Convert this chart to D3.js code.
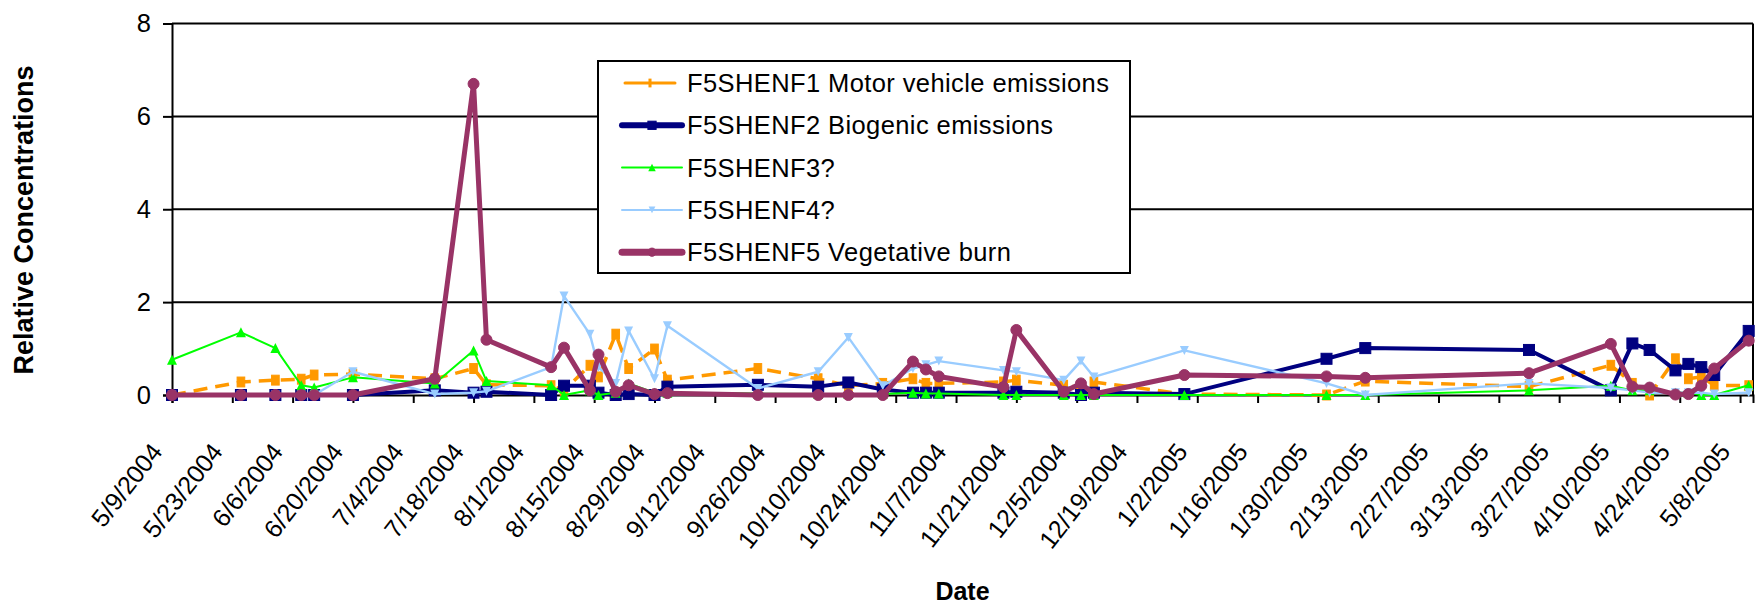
<!DOCTYPE html>
<html>
<head>
<meta charset="utf-8">
<script src="https://cdn.jsdelivr.net/npm/d3@7/dist/d3.min.js"></script>
<style>
  html, body { margin: 0; padding: 0; background: #fff; }
  svg { display: block; font-family: "Liberation Sans", Arial, sans-serif; }
</style>
</head>
<body>
<svg id="chart" width="1757" height="604"></svg>
<script>
// ---------------- DATA ----------------
const sampleDates = [
  "5/9/2004","5/25/2004","6/2/2004","6/8/2004","6/11/2004","6/20/2004","7/9/2004","7/18/2004","7/21/2004",
  "8/5/2004","8/8/2004","8/14/2004","8/16/2004","8/20/2004","8/23/2004","8/29/2004","9/1/2004","9/22/2004",
  "10/6/2004","10/13/2004","10/21/2004","10/28/2004","10/31/2004","11/3/2004","11/18/2004","11/21/2004",
  "12/2/2004","12/6/2004","12/9/2004","12/30/2004","2/1/2005","2/10/2005","3/20/2005","4/8/2005","4/13/2005",
  "4/17/2005","4/23/2005","4/26/2005","4/29/2005","5/2/2005","5/10/2005"
];
const seriesNames = [
  "F5SHENF1 Motor vehicle emissions",
  "F5SHENF2 Biogenic emissions",
  "F5SHENF3?",
  "F5SHENF4?",
  "F5SHENF5 Vegetative burn"
];
const f1Motor = [0,0.28,0.32,0.34,0.43,0.45,0.35,0.57,0.22,0.2,0.1,0.64,0.39,1.31,0.57,0.99,0.32,0.57,
  0.35,0.2,0.25,0.35,0.25,0.25,0.28,0.32,0.21,0.15,0.28,0.02,0,0.3,0.18,0.64,0.25,0,0.78,0.35,0.39,0.21,0.2];
const f2Biogenic = [0,0,0,0,0,0,0.1,0.05,0.07,0,0.2,0.2,0.05,0,0.02,0,0.18,0.22,
  0.18,0.27,0.12,0.05,0.05,0.05,0.05,0.07,0.05,0,0.05,0.02,0.78,1.01,0.97,0.1,1.11,0.97,0.53,0.67,0.6,0.43,1.38];
const f3Unknown = [0.76,1.35,1.01,0.21,0.16,0.38,0.25,0.96,0.3,0.21,0,0.1,0,0.05,0.25,0.05,0.05,0.03,
  0.02,0.02,0.02,0.05,0.03,0.03,0,0,0,0,0,0,0,0,0.1,0.2,0.1,0.1,0.05,0.05,0,0,0.21];
const f4Unknown = [0,0,0,0,0,0.5,0.02,0.05,0.08,0.6,2.13,1.31,0.6,0.25,1.38,0.35,1.49,0.14,
  0.5,1.24,0.2,0.57,0.65,0.73,0.53,0.5,0.32,0.73,0.39,0.96,0.25,0,0.25,0.15,0.1,0.05,0.05,0.05,0.05,0.02,0.05];
const f5Burn = [0,0,0,0,0,0,0.35,6.7,1.19,0.6,1.02,0.1,0.87,0.07,0.21,0.02,0.04,0,
  0,0,0,0.72,0.55,0.4,0.17,1.4,0.07,0.25,0.02,0.43,0.4,0.37,0.47,1.1,0.18,0.16,0.01,0.02,0.2,0.57,1.17];
const tickLabels = [
  "5/9/2004","5/23/2004","6/6/2004","6/20/2004","7/4/2004","7/18/2004","8/1/2004","8/15/2004","8/29/2004",
  "9/12/2004","9/26/2004","10/10/2004","10/24/2004","11/7/2004","11/21/2004","12/5/2004","12/19/2004",
  "1/2/2005","1/16/2005","1/30/2005","2/13/2005","2/27/2005","3/13/2005","3/27/2005","4/10/2005",
  "4/24/2005","5/8/2005"
];
const yTicks = [0, 2, 4, 6, 8];
const axisStart = "5/9/2004";
const axisEnd = "5/11/2005";

// ---------------- STYLES ----------------
const styles = [
  { color: "#FF9900", width: 3.5, dash: "14,8", marker: "rect", size: 9 },
  { color: "#000080", width: 4, dash: null, marker: "square", size: 11 },
  { color: "#00FF00", width: 2, dash: null, marker: "triangle", size: 10 },
  { color: "#99CCFF", width: 2.4, dash: null, marker: "tridown", size: 9 },
  { color: "#993366", width: 5, dash: null, marker: "circle", size: 11 }
];
const seriesValues = [f1Motor, f2Biogenic, f3Unknown, f4Unknown, f5Burn];

// ---------------- LAYOUT ----------------
const L = 172, R = 1753, T = 23.5, B = 395;
const parse = d3.utcParse("%m/%d/%Y");
const fmt = d3.utcFormat("%-m/%-d/%Y");

const x = d3.scaleUtc().domain([parse(axisStart), parse(axisEnd)]).range([L, R]);
const y = d3.scaleLinear().domain([0, 8]).range([B, T]);

const svg = d3.select("#chart");

// gridlines
svg.append("g").selectAll("line").data(yTicks.filter(v => v > 0)).join("line")
  .attr("x1", L).attr("x2", R).attr("y1", d => y(d)).attr("y2", d => y(d))
  .attr("stroke", "#000").attr("stroke-width", 2);
// right border
svg.append("line").attr("x1", R).attr("x2", R).attr("y1", T).attr("y2", B)
  .attr("stroke", "#000").attr("stroke-width", 2);

// y axis
const yAxis = d3.axisLeft(y).tickValues(yTicks).tickSize(9).tickPadding(12).tickFormat(d3.format("d"));
const gy = svg.append("g").attr("transform", `translate(${L},0)`).call(yAxis);
gy.select(".domain").attr("stroke", "#000").attr("stroke-width", 2);
gy.selectAll(".tick line").attr("stroke", "#000").attr("stroke-width", 2);
gy.selectAll(".tick text").attr("font-size", 25.5).attr("fill", "#000")
  .attr("font-family", "'Liberation Sans', Arial, sans-serif");

// x axis
const tickDates = tickLabels.map(parse);
const xAxis = d3.axisBottom(x).tickValues(tickDates).tickSize(8).tickFormat(fmt);
const gx = svg.append("g").attr("transform", `translate(0,${B})`).call(xAxis);
gx.select(".domain").attr("stroke", "#000").attr("stroke-width", 2);
gx.selectAll(".tick line").attr("stroke", "#000").attr("stroke-width", 2);
gx.selectAll(".tick text")
  .attr("font-size", 25).attr("fill", "#000")
  .attr("font-family", "'Liberation Sans', Arial, sans-serif")
  .attr("text-anchor", "end")
  .attr("dy", null).attr("y", 0)
  .attr("transform", "translate(-9,57) rotate(-52)");

// series
const dates = sampleDates.map(parse);
const line = d3.line().x(d => x(d.date)).y(d => y(d.value));

function drawMarker(g, type, size, color) {
  if (type === "circle") {
    return g.append("circle").attr("r", size / 2).attr("fill", color).attr("stroke", color);
  }
  if (type === "square") {
    return g.append("rect").attr("x", -size / 2).attr("y", -size / 2).attr("width", size).attr("height", size)
      .attr("fill", color).attr("stroke", color);
  }
  if (type === "rect") {
    const w = size * 0.85, h = size * 1.1;
    return g.append("rect").attr("x", -w / 2).attr("y", -h / 2).attr("width", w).attr("height", h)
      .attr("fill", color).attr("stroke", color);
  }
  if (type === "bar") {
    const w = size * 0.45, h = size * 1.3;
    return g.append("rect").attr("x", -w / 2).attr("y", -h / 2).attr("width", w).attr("height", h)
      .attr("fill", color);
  }
  if (type === "triangle") {
    const s = size / 2;
    return g.append("path").attr("d", `M0,${-s}L${s},${s}L${-s},${s}Z`).attr("fill", color);
  }
  if (type === "tridown") {
    const s = size / 2;
    return g.append("path").attr("d", `M${-s},${-s}L${s},${-s}L0,${s}Z`).attr("fill", color);
  }
}

seriesValues.forEach((vals, i) => {
  const st = styles[i];
  const pts = vals.map((v, j) => ({ date: dates[j], value: v }));
  const g = svg.append("g");
  const p = g.append("path").datum(pts).attr("d", line).attr("fill", "none")
    .attr("stroke", st.color).attr("stroke-width", st.width).attr("stroke-linejoin", "round");
  if (st.dash) p.attr("stroke-dasharray", st.dash);
  pts.forEach(d => {
    const mg = g.append("g").attr("transform", `translate(${x(d.date)},${y(d.value)})`);
    drawMarker(mg, st.marker, st.size, st.color);
  });
});

// legend
const legendWidths = [3, 6, 2, 2, 7];
const lg = svg.append("g");
lg.append("rect").attr("x", 598).attr("y", 61).attr("width", 532).attr("height", 212)
  .attr("fill", "#fff").attr("stroke", "#000").attr("stroke-width", 2);
seriesNames.forEach((name, i) => {
  const st = styles[i];
  const cy = 83 + i * 42.3;
  lg.append("line").attr("x1", i === 0 ? 625 : 622).attr("x2", i === 0 ? 675 : 682).attr("y1", cy).attr("y2", cy)
    .attr("stroke", st.color).attr("stroke-width", legendWidths[i]).attr("stroke-linecap", "round");
  const mg = lg.append("g").attr("transform", `translate(${i === 0 ? 650 : 652},${cy})`);
  drawMarker(mg, i === 0 ? "bar" : st.marker, st.size * 0.75, st.color);
  lg.append("text").attr("x", 687).attr("y", cy + 9).attr("font-size", 25.5)
    .attr("letter-spacing", 0.4).attr("fill", "#000").text(name);
});

// axis titles
svg.append("text").attr("transform", "translate(33,220) rotate(-90)").attr("text-anchor", "middle")
  .attr("font-size", 27).attr("font-weight", "bold").attr("fill", "#000").text("Relative Concentrations");
svg.append("text").attr("x", (L + R) / 2).attr("y", 600).attr("text-anchor", "middle")
  .attr("font-size", 25).attr("font-weight", "bold").attr("fill", "#000").text("Date");
</script>
</body>
</html>
